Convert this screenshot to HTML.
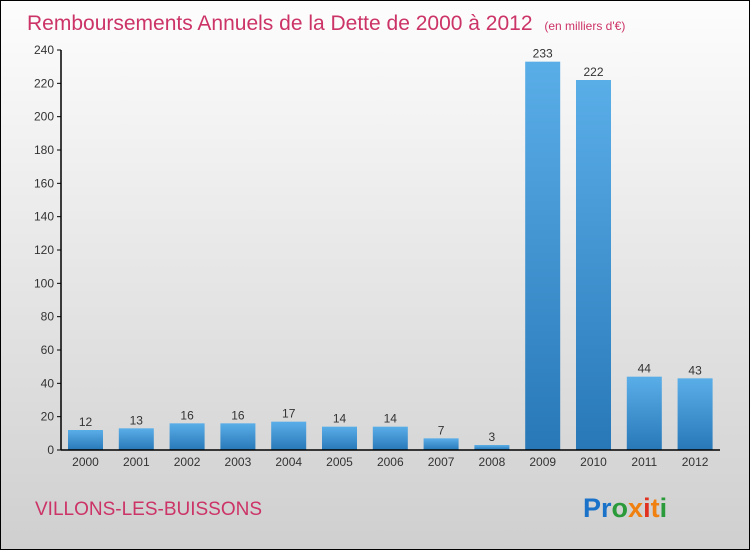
<!DOCTYPE html>
<html><head><meta charset="utf-8"><style>
body{margin:0}
svg{display:block;font-family:"Liberation Sans",sans-serif}
</style></head><body>
<svg id="c" width="750" height="550">
<defs>
<linearGradient id="bg" x1="0" y1="0" x2="0" y2="1"><stop offset="0" stop-color="#fdfdfd"/><stop offset="1" stop-color="#cfcfcf"/></linearGradient>
<linearGradient id="bar" x1="0" y1="0" x2="0" y2="1"><stop offset="0" stop-color="#5aaee8"/><stop offset="1" stop-color="#2878b8"/></linearGradient>
</defs>
<rect x="0.5" y="0.5" width="749" height="549" fill="url(#bg)" stroke="#000"/>
<text x="27" y="30" font-size="21" fill="#cc3366">Remboursements Annuels de la Dette de 2000 à 2012 <tspan font-size="12" dx="6">(en milliers d'€)</tspan></text>
<text x="35" y="515" font-size="19" fill="#cc3366">VILLONS-LES-BUISSONS</text>
<text x="583" y="517" font-size="27" font-weight="bold"><tspan fill="#1a73c9">Pr</tspan><tspan fill="#2a9a3a">o</tspan><tspan fill="#f08010">x</tspan><tspan fill="#e03020">i</tspan><tspan fill="#f08010">t</tspan><tspan fill="#2a9a3a">i</tspan></text>
<g id="plot"></g>
</svg>
<script>
const years=["2000","2001","2002","2003","2004","2005","2006","2007","2008","2009","2010","2011","2012"];
const values=[12,13,16,16,17,14,14,7,3,233,222,44,43];
const yTicks=[0,20,40,60,80,100,120,140,160,180,200,220,240];
const NS="http://www.w3.org/2000/svg";
const g=document.getElementById('plot');
const y=v=>450-v*400/240;
const x=i=>68+i*50.8;
function mk(t,a,txt){const e=document.createElementNS(NS,t);for(const k in a)e.setAttribute(k,a[k]);if(txt!==undefined)e.textContent=txt;g.appendChild(e);return e;}
yTicks.forEach(t=>{
 const l=mk('line',{x1:57,x2:61,y1:y(t),y2:y(t),stroke:'#000'});
 
 
 const tx=mk('text',{x:54,y:y(t)+4,'font-size':12,fill:'#333','text-anchor':'end'},t);
 
 
});
values.forEach((v,i)=>{
 const r=mk('rect',{x:x(i),y:y(v),width:35,height:450-y(v),fill:'url(#bar)'});
 
 
 const vl=mk('text',{x:x(i)+17.5,y:y(v)-4,'font-size':12,fill:'#333','text-anchor':'middle'},v);
 
 
 const xl=mk('text',{x:x(i)+17.5,y:466,'font-size':12,fill:'#333','text-anchor':'middle'},years[i]);
 
 
});
const ya=mk('line',{x1:61,x2:61,y1:50,y2:450,stroke:'#000','stroke-width':1.5});


const xa=mk('line',{x1:61,x2:720,y1:450,y2:450,stroke:'#000','stroke-width':1.5});


</script>
</body></html>
